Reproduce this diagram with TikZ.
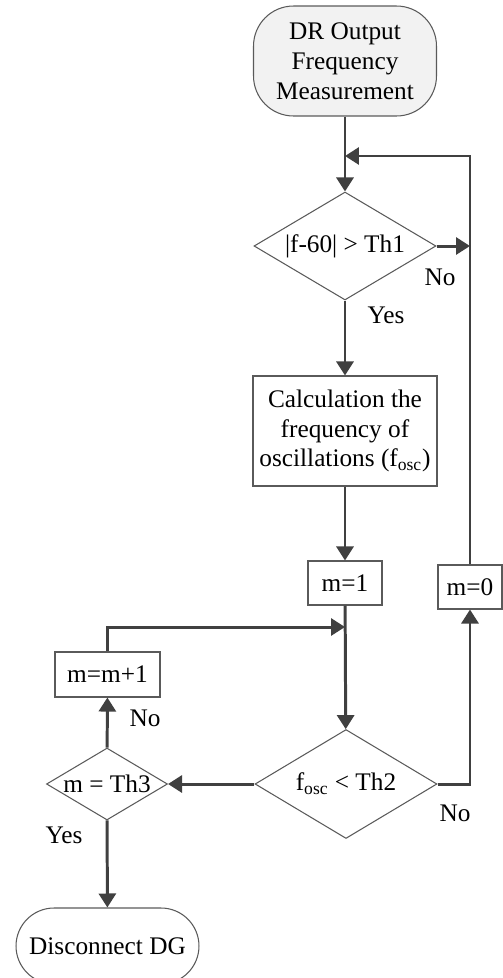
\documentclass[tikz,border=0pt]{standalone}
\usepackage{fontspec}
\setmainfont{Liberation Serif}
\usetikzlibrary{arrows.meta, shapes.geometric}

\definecolor{linegray}{HTML}{404040}
\definecolor{edgegray}{HTML}{5A5A5A}
\definecolor{startfill}{HTML}{F2F2F2}

\begin{document}
\begin{tikzpicture}[x=0.02cm, y=-0.02cm,
  font=\fontsize{14.4}{17}\selectfont,
  terminal/.style={draw=edgegray, line width=0.6pt, align=center, inner sep=0pt},
  process/.style={draw=edgegray, line width=0.6pt, align=center, inner sep=0pt},
  decision/.style={diamond, draw=edgegray, line width=0.6pt, inner sep=0pt, shape aspect=1.7},
  flow/.style={draw=linegray, line width=1.7pt, -{Triangle[length=0.28cm, width=0.34cm]}},
  lbl/.style={inner sep=0pt}]
  \useasboundingbox (0,0) rectangle (503,978);
  % blocks
  \node[terminal, fill=startfill, rounded corners=0.8cm, minimum width=3.66cm, minimum height=2.2cm] (start) at (345,61) {DR Output\\Frequency\\Measurement};
  \node[decision, minimum width=3.64cm, minimum height=2.16cm] (dia1) at (345,246) {|f-60| > Th1};
  \node[process, minimum width=3.68cm, minimum height=2.2cm] (calc) at (345,431) {Calculation the\\frequency of\\oscillations (f\textsubscript{osc})};
  \node[process, minimum width=1.48cm, minimum height=0.88cm] (mone) at (345,583) {m=1};
  \node[process, minimum width=1.28cm, minimum height=0.88cm] (mzero) at (470,587) {m=0};
  \node[decision, minimum width=3.64cm, minimum height=2.18cm] (dia2) at (346,784) {f\textsubscript{osc} < Th2};
  \node[decision, inner xsep=-0.25cm, minimum width=2.42cm, minimum height=1.44cm] (dia3) at (107,784) {m = Th3};
  \node[process, minimum width=2.1cm, minimum height=0.9cm] (mplus) at (107.5,674.5) {m=m+1};
  \node[terminal, rounded corners=0.76cm, minimum width=3.66cm, minimum height=1.52cm] (stop) at (107.5,946) {Disconnect DG};
  \coordinate (J1) at (345,156);
  \coordinate (J2) at (345,627);
  % connectors
  \draw[flow] (start) -- (dia1);
  \draw[flow] (dia1.east) -- (dia1.east -| mzero.north);
  \draw[flow] (mzero.north) |- (J1);
  \draw[flow] (dia1) -- (calc);
  \draw[flow] (calc) -- (mone);
  \draw[flow] (mone) -- (dia2);
  \draw[flow] (dia2.east) -| (mzero.south);
  \draw[flow] (dia2) -- (dia3);
  \draw[flow] (dia3) -- (mplus);
  \draw[flow] (mplus.north) |- (J2);
  \draw[flow] (dia3) -- (stop);
  % labels
  \node[lbl] (no1) at (440,277) {No};
  \node[lbl] (yes1) at (386,315) {Yes};
  \node[lbl] (no2) at (455,813) {No};
  \node[lbl] (no3) at (145,718) {No};
  \node[lbl] (yes2) at (64,835) {Yes};
\end{tikzpicture}
\end{document}
